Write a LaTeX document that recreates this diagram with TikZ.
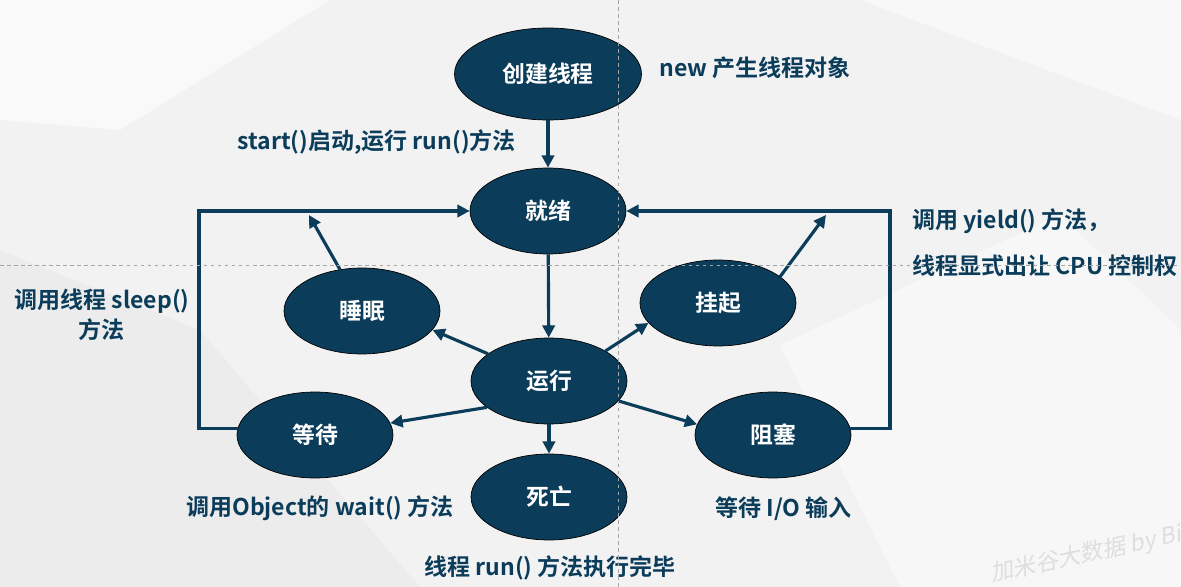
\documentclass[tikz,border=0pt]{standalone}
\usepackage{fontspec}
\setmainfont{Noto Sans CJK SC}[BoldFont={Noto Sans CJK SC Bold}]
\newfontfamily\wmfont{Noto Sans CJK SC}[FakeSlant=0.2]
\usetikzlibrary{shapes.geometric,arrows.meta}

\definecolor{thdark}{RGB}{11,61,91}
\definecolor{thbg}{RGB}{242,242,243}
\definecolor{thguide}{RGB}{165,165,165}

\begin{document}
\begin{tikzpicture}[x=0.02cm, y=-0.02cm,
  font=\fontsize{13.1}{17}\selectfont\bfseries,
  state/.style={ellipse, draw=black, line width=0.4pt, fill=thdark, text=white,
    font=\fontsize{13}{15}\selectfont\bfseries,
    minimum width=3.12cm, minimum height=1.72cm, inner sep=0pt},
  flow/.style={thdark, line width=1.8pt, line join=miter,
    -{Triangle[length=7pt,width=7pt]}},
  note/.style={text=thdark, inner sep=0pt}]
%% background
\useasboundingbox (0,0) rectangle (1181,587);
\fill[thbg] (0,0) rectangle (1181,587);
\fill[white, opacity=0.55] (0,0) -- (330,0) -- (120,130) -- (0,120) -- cycle;
\fill[white, opacity=0.45] (780,345) -- (1060,215) -- (1181,330) -- (1181,587) -- (900,587) -- cycle;
\fill[black, opacity=0.025] (0,250) -- (200,330) -- (420,587) -- (0,587) -- cycle;
\fill[white, opacity=0.5] (860,0) -- (1181,0) -- (1181,120) -- cycle;
%% states
\node[state, minimum width=3.74cm, minimum height=1.84cm] (create) at (548,74) {创建线程};
\node[state] (ready) at (548,211) {就绪};
\node[state] (sleep) at (362,311) {睡眠};
\node[state] (run) at (549,381) {运行};
\node[state] (hang) at (718,303) {挂起};
\node[state] (wait) at (315,435) {等待};
\node[state] (block) at (773,435) {阻塞};
\node[state] (dead) at (549,497) {死亡};
%% bends of the way back to ready
\coordinate (lbend) at (199,211);
\coordinate (rbend) at (890,211);
\coordinate (sleepin) at (309,215);
\coordinate (hangin) at (826,215);
%% transitions
\draw[flow] (create) -- (ready);
\draw[flow] (ready) -- (run);
\draw[flow] (run) -- (dead);
\draw[flow] (run.156) -- (sleep.-15);
\draw[flow] (run.203) -- (wait.9);
\draw[flow] (run.28) -- (hang.196);
\draw[flow] (run.-16) -- (block.172);
\draw[flow] (sleep.118) -- (sleepin);
\draw[flow] (hang.23) -- (hangin);
\draw[flow] (wait.175) -| (lbend) -- (ready.west);
\draw[flow] (block.5) -| (rbend) -- (ready.east);
%% labels
\node[note, anchor=west] (newlbl) at (659,68) {new 产生线程对象};
\node[note, anchor=west] (startlbl) at (237,142) {start()启动,运行 run()方法};
\node[note, anchor=west] (yieldlbl) at (912,221) {调用 yield() 方法，};
\node[note, anchor=west] (cpulbl) at (912,266) {线程显式出让 CPU 控制权};
\node[note, align=center] (sleeplbl) at (102,315) {调用线程 sleep()\\方法};
\node[note, anchor=west] (waitlbl) at (186,508) {调用Object的 wait() 方法};
\node[note, anchor=west] (iolbl) at (715,509) {等待 I/O 输入};
\node[note, anchor=west] (runlbl) at (424,568) {线程 run() 方法执行完毕};
\node[rotate=12, anchor=base west, text=black!13, inner sep=0pt,
  font=\wmfont\fontsize{13}{15}\selectfont] (mark) at (992,582) {加米谷大数据 by Bi};
%% guides
\draw[thguide, line width=0.4pt, dash pattern=on 2pt off 2pt] (618,0) -- (618,587);
\draw[thguide, line width=0.4pt, dash pattern=on 2pt off 2pt] (0,265) -- (1181,265);
\end{tikzpicture}
\end{document}
